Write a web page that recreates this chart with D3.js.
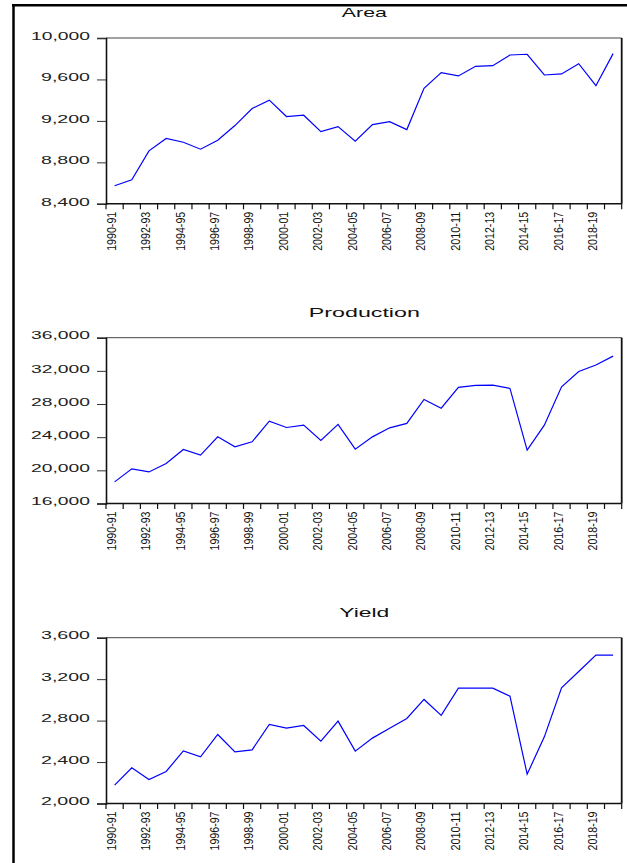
<!DOCTYPE html>
<html><head><meta charset="utf-8">
<script src="https://cdn.jsdelivr.net/npm/d3@7/dist/d3.min.js"></script>
<style>body{margin:0;background:#fff}svg{display:block}</style>
</head><body>
<svg id="c" width="627" height="863"></svg>
<script>
const categories = ["1990-91","1991-92","1992-93","1993-94","1994-95","1995-96","1996-97","1997-98","1998-99","1999-00",
  "2000-01","2001-02","2002-03","2003-04","2004-05","2005-06","2006-07","2007-08","2008-09","2009-10",
  "2010-11","2011-12","2012-13","2013-14","2014-15","2015-16","2016-17","2017-18","2018-19","2019-20"];
const tickLabels = ["1990-91","1992-93","1994-95","1996-97","1998-99","2000-01","2002-03","2004-05",
  "2006-07","2008-09","2010-11","2012-13","2014-15","2016-17","2018-19"];
const area = [8574,8631,8911,9030,8994,8927,9014,9155,9319,9400,9242,9255,9097,9145,9004,9164,9193,9116,9515,9666,9634,9727,9733,9836,9843,9643,9653,9752,9540,9849];
const production = [18610,20180,19810,20830,22520,21830,24040,22830,23440,25930,25170,25450,23600,25540,22550,24040,25130,25660,28550,27500,30000,30240,30280,29880,22430,25450,30080,31930,32700,33780];
const yieldData = [2177,2344,2232,2309,2508,2450,2666,2498,2518,2763,2727,2753,2602,2795,2505,2631,2727,2821,3004,2850,3113,3113,3113,3036,2283,2643,3116,3274,3432,3432];
const areaTicks = [8400,8800,9200,9600,10000];
const productionTicks = [16000,20000,24000,28000,32000,36000];
const yieldTicks = [2000,2400,2800,3200,3600];

const panels = [
  {title:"Area", data:area, ticks:areaTicks, top:38, titleLen:45},
  {title:"Production", data:production, ticks:productionTicks, top:337.7, titleLen:111},
  {title:"Yield", data:yieldData, ticks:yieldTicks, top:637.7, titleLen:50}
];

const svg = d3.select("#c");
const FONT = "'Liberation Sans', Arial, sans-serif";
const L = 106, R = 621.7, H = 165.8;

// outer frame
svg.append("line").attr("x1",13.5).attr("x2",13.5).attr("y1",4).attr("y2",863).attr("stroke","#000").attr("stroke-width",2.5);
svg.append("line").attr("x1",12).attr("x2",627).attr("y1",5.2).attr("y2",5.2).attr("stroke","#000").attr("stroke-width",2.5);

panels.forEach(p => {
  const top = p.top, bottom = top + H;
  const g = svg.append("g");
  const x = d3.scaleBand().domain(categories).range([L, R]).paddingInner(0).paddingOuter(0);
  const y = d3.scaleLinear().domain(d3.extent(p.ticks)).range([bottom, top]);

  // title
  g.append("text").attr("x", (L+R)/2 + 0.5).attr("y", top - 21)
    .attr("text-anchor","middle").attr("font-family",FONT).attr("font-size",13).attr("fill","#111")
    .attr("textLength", p.titleLen).attr("lengthAdjust","spacingAndGlyphs").text(p.title);

  // frame top/right
  g.append("line").attr("x1",L).attr("x2",R).attr("y1",top).attr("y2",top).attr("stroke","#444").attr("stroke-width",1);
  g.append("line").attr("x1",R).attr("x2",R).attr("y1",top).attr("y2",bottom).attr("stroke","#111").attr("stroke-width",1.8);

  // y axis
  const ya = g.append("g").attr("transform",`translate(${L},0)`)
    .call(d3.axisLeft(y).tickValues(p.ticks).tickFormat(d3.format(",")).tickSize(9).tickPadding(7));
  ya.select(".domain").attr("stroke","#111").attr("stroke-width",1.6);
  ya.selectAll(".tick line").attr("stroke","#333");
  ya.selectAll(".tick text").attr("font-family",FONT).attr("font-size",11).attr("fill","#222")
    .attr("dy", 1.2)
    .attr("textLength", d => d3.format(",")(d).length*10 - 1).attr("lengthAdjust","spacingAndGlyphs");

  // x axis
  g.append("line").attr("x1",L).attr("x2",R).attr("y1",bottom).attr("y2",bottom).attr("stroke","#111").attr("stroke-width",1.6);
  const edges = categories.map(c => x(c)).concat([R]);
  g.selectAll(".xt").data(edges).join("line").attr("class","xt")
    .attr("x1",d=>d).attr("x2",d=>d).attr("y1",bottom).attr("y2",bottom+5.5).attr("stroke","#111").attr("stroke-width",1.2);
  g.selectAll(".xl").data(tickLabels).join("text").attr("class","xl")
    .attr("transform", d => `translate(${x(d)+5},${bottom+8}) rotate(-90)`)
    .attr("text-anchor","end").attr("dy","0.36em")
    .attr("font-family",FONT).attr("font-size",13.5).attr("fill","#111")
    .attr("textLength",39).attr("lengthAdjust","spacingAndGlyphs").text(d=>d);

  // line
  const line = d3.line().x((d,i) => x(categories[i]) + x.bandwidth()/2).y(d => y(d));
  g.append("path").datum(p.data).attr("d", line).attr("fill","none").attr("stroke","#0000ff").attr("stroke-width",1.2);
});
</script>
</body></html>
